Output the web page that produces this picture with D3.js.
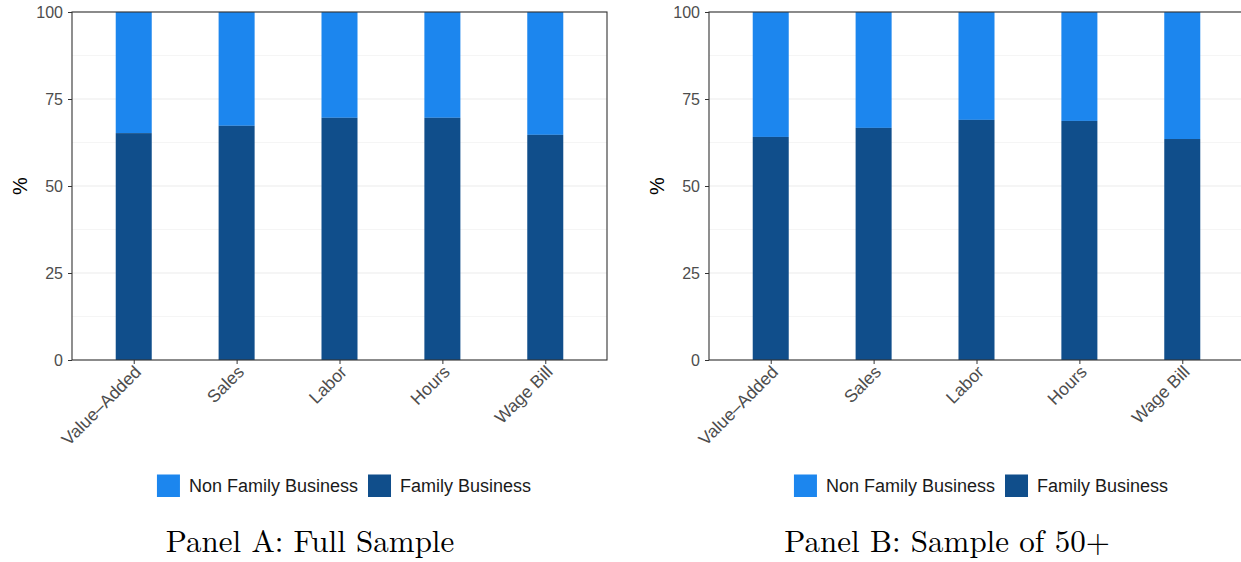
<!DOCTYPE html>
<html><head><meta charset="utf-8">
<script src="https://cdn.jsdelivr.net/npm/d3@7"></script>
<style>body{margin:0;background:#fff}svg{display:block}</style>
</head><body>
<svg id="c" width="1241" height="562"></svg>
<script>
const categories = ["Value–Added","Sales","Labor","Hours","Wage Bill"];
const familyA = [65.2, 67.3, 69.6, 69.6, 64.7];
const familyB = [64.1, 66.7, 69.0, 68.7, 63.5];
const yTicks = [0, 25, 50, 75, 100];
const seriesNames = ["Non Family Business","Family Business"];
const colors = {"Non Family Business":"#1C86EE","Family Business":"#104E8B"};
const panelTitles = ["Panel A: Full Sample","Panel B: Sample of 50+"];

const svg = d3.select("#c");
const font = "'Liberation Sans', Arial, sans-serif";

function panel(left, family, title) {
  const top = 12, bottom = 360, width = 535;
  const right = left + width;
  const idx = d3.range(1, categories.length + 1);
  const x = d3.scaleLinear().domain([0.4, categories.length + 0.6]).range([left, right]);
  const y = d3.scaleLinear().domain([0, 100]).range([bottom, top]);
  const g = svg.append("g");
  const minor = [12.5, 37.5, 62.5, 87.5];
  g.selectAll(".minor").data(minor).enter().append("line")
    .attr("x1", left).attr("x2", right).attr("y1", d => y(d)).attr("y2", d => y(d))
    .attr("stroke", "#f2f2f2").attr("stroke-width", 0.8);
  g.selectAll(".major").data(yTicks).enter().append("line")
    .attr("x1", left).attr("x2", right).attr("y1", d => y(d)).attr("y2", d => y(d))
    .attr("stroke", "#ebebeb").attr("stroke-width", 1.2);
  const bw = (x(1.175) - x(0.825));
  const rows = categories.map((c, i) => ({c, i: i + 1, fam: family[i]}));
  g.selectAll(".nf").data(rows).enter().append("rect")
    .attr("x", d => x(d.i) - bw / 2).attr("width", bw)
    .attr("y", y(100)).attr("height", d => y(d.fam) - y(100))
    .attr("fill", colors["Non Family Business"]);
  g.selectAll(".fb").data(rows).enter().append("rect")
    .attr("x", d => x(d.i) - bw / 2).attr("width", bw)
    .attr("y", d => y(d.fam)).attr("height", d => y(0) - y(d.fam))
    .attr("fill", colors["Family Business"]);
  g.append("rect").attr("x", left).attr("y", top).attr("width", width).attr("height", bottom - top)
    .attr("fill", "none").attr("stroke", "#333").attr("stroke-width", 1.1);
  const ya = g.append("g").attr("transform", `translate(${left},0)`)
    .call(d3.axisLeft(y).tickValues(yTicks).tickSize(4).tickPadding(5));
  ya.select(".domain").remove();
  ya.selectAll("line").attr("stroke", "#333");
  ya.selectAll("text").attr("fill", "#4d4d4d").style("font-family", font).style("font-size", "16px");
  const xa = g.append("g").attr("transform", `translate(0,${bottom})`)
    .call(d3.axisBottom(x).tickValues(idx).tickSize(4).tickFormat(d => categories[d - 1]));
  xa.select(".domain").remove();
  xa.selectAll("line").attr("stroke", "#333");
  xa.selectAll("text").attr("fill", "#4d4d4d").style("font-family", font).style("font-size", "17.5px")
    .attr("text-anchor", "end").attr("y", 0).attr("dy", 0)
    .attr("transform", "translate(8,13) rotate(-45)");
  g.append("text").attr("transform", `translate(${left - 52},${(top + bottom) / 2}) rotate(-90)`)
    .attr("text-anchor", "middle").attr("dy", "0.35em")
    .style("font-family", font).style("font-size", "20px").attr("fill", "#000").text("%");
  const lg = g.append("g");
  let lx = 0;
  seriesNames.forEach(n => {
    const it = lg.append("g").attr("transform", `translate(${lx},0)`);
    it.append("rect").attr("width", 23).attr("height", 22.5).attr("fill", colors[n]);
    const t = it.append("text").attr("x", 32).attr("y", 11.5).attr("dy", "0.35em")
      .style("font-family", font).style("font-size", "18px").attr("fill", "#1a1a1a").text(n);
    lx += 32 + t.node().getComputedTextLength() + 10;
  });
  const lw = lx - 10;
  const cx = (left + right) / 2 + 4.5;
  lg.attr("transform", `translate(${cx - lw / 2},474.5)`);
  g.append("text").attr("x", (left + right) / 2 - 29.5).attr("y", 552)
    .attr("text-anchor", "middle")
    .style("font-family", "'Latin Modern Roman','CMU Serif','Liberation Serif','DejaVu Serif',serif")
    .style("font-size", "31px").attr("fill", "#000").text(title);
}
panel(72, familyA, panelTitles[0]);
panel(709, familyB, panelTitles[1]);
</script>
</body></html>
